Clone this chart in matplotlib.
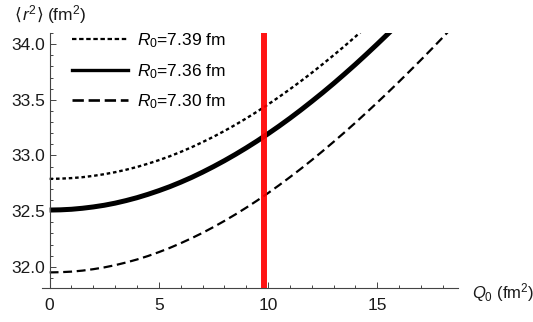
import matplotlib
matplotlib.use("Agg")
import matplotlib.pyplot as plt
from matplotlib.lines import Line2D
from matplotlib.ticker import MultipleLocator, FormatStrFormatter

plt.rcParams["font.family"] = ["Liberation Sans", "DejaVu Sans"]
plt.rcParams["mathtext.fontset"] = "custom"
plt.rcParams["mathtext.rm"] = "Liberation Sans"
plt.rcParams["mathtext.it"] = "Liberation Sans:italic"

# ---------------------------------------------------------------------------
# Data (Q0 in fm^2, <r^2> in fm^2)
# ---------------------------------------------------------------------------
q0 = [0.0, 0.5, 1.0, 1.5, 2.0, 2.5, 3.0, 3.5, 4.0, 4.5, 5.0, 5.5, 6.0, 6.5,
      7.0, 7.5, 8.0, 8.5, 9.0, 9.5, 10.0, 10.5, 11.0, 11.5, 12.0, 12.5, 13.0,
      13.5, 14.0, 14.5, 15.0, 15.5, 16.0, 16.5, 17.0, 17.5, 18.0, 18.5, 19.0]
r2_739 = [32.790, 32.792, 32.797, 32.805, 32.817, 32.832, 32.850, 32.872,
          32.897, 32.926, 32.958, 32.993, 33.032, 33.074, 33.120, 33.168,
          33.220, 33.275, 33.333, 33.394, 33.458, 33.525, 33.595, 33.667,
          33.742, 33.820, 33.900, 33.982, 34.067, 34.155]
r2_736 = [32.510, 32.512, 32.517, 32.526, 32.538, 32.553, 32.572, 32.595,
          32.621, 32.651, 32.684, 32.720, 32.760, 32.803, 32.850, 32.900,
          32.953, 33.009, 33.068, 33.130, 33.195, 33.263, 33.334, 33.408,
          33.485, 33.564, 33.646, 33.731, 33.818, 33.908, 34.000, 34.094,
          34.190]
r2_730 = [31.950, 31.952, 31.957, 31.966, 31.979, 31.995, 32.015, 32.039,
          32.066, 32.097, 32.132, 32.170, 32.212, 32.257, 32.305, 32.357,
          32.412, 32.470, 32.531, 32.595, 32.662, 32.732, 32.805, 32.880,
          32.958, 33.039, 33.122, 33.207, 33.294, 33.384, 33.475, 33.568,
          33.663, 33.760, 33.858, 33.958, 34.060, 34.163, 34.268]
labels = ["$R_0$=7.39 fm", "$R_0$=7.36 fm", "$R_0$=7.30 fm"]
q0_marker = 9.8

FS = 12.5
INK = "#1a1a1a"

fig = plt.figure(figsize=(5.33, 3.22), dpi=100)
ax = fig.add_axes([0.0788, 0.1056, 0.7805, 0.7919])

ax.plot(q0[:len(r2_739)], r2_739, color="black", lw=1.7, dashes=(1.5, 1.2),
        dash_capstyle="butt")
ax.plot(q0[:len(r2_736)], r2_736, color="black", lw=3.6,
        solid_capstyle="butt")
ax.plot(q0[:len(r2_730)], r2_730, color="black", lw=1.6, dashes=(4.0, 2.1),
        dash_capstyle="butt")
ax.axvline(q0_marker, color="#ff0000", lw=4.3, alpha=0.92, zorder=5)

ax.set_xlim(-0.35, 18.7)
ax.set_ylim(31.81, 34.1)

for side in ("top", "right"):
    ax.spines[side].set_visible(False)
ax.spines["left"].set_position(("data", 0))
for side in ("left", "bottom"):
    ax.spines[side].set_color("#444444")
    ax.spines[side].set_linewidth(0.8)

ax.xaxis.set_major_locator(MultipleLocator(5))
ax.xaxis.set_minor_locator(MultipleLocator(1))
ax.yaxis.set_major_locator(MultipleLocator(0.5))
ax.yaxis.set_minor_locator(MultipleLocator(0.1))
ax.yaxis.set_major_formatter(FormatStrFormatter("%.1f"))
ax.tick_params(which="both", direction="in", color="#444444", width=0.7,
               labelsize=FS, labelcolor=INK)
ax.tick_params(which="major", length=4)
ax.tick_params(which="minor", length=2.5)
ax.tick_params(axis="x", pad=7)
ax.tick_params(axis="y", pad=3)

# y label in pieces: the angle brackets come from DejaVu Sans
renderer = fig.canvas.get_renderer()
ylabel_parts = [("\u27e8", "DejaVu Sans", 0.0), ("$r^2$", None, 0.0),
                ("\u27e9", "DejaVu Sans", 4.0), ("(fm$^2$)", None, 0.0)]
x_pos = 0.028
for part, family, gap_px in ylabel_parts:
    kw = {"family": family} if family else {}
    t = fig.text(x_pos, 0.937, part, fontsize=FS, color=INK,
                 va="baseline", ha="left", **kw)
    x_pos += (t.get_window_extent(renderer).width + gap_px) / fig.bbox.width

fig.text(0.886, 0.09, "$Q_0$ (fm$^2$)", fontsize=12, color=INK,
         va="center", ha="left")

handles = [
    Line2D([], [], color="black", lw=1.6, dashes=(2.0, 1.2)),
    Line2D([], [], color="black", lw=2.4),
    Line2D([], [], color="black", lw=1.9, dashes=(4.3, 1.8)),
]
ax.legend(handles, labels, loc="upper left", bbox_to_anchor=(0.035, 1.067),
          frameon=False, fontsize=FS, handlelength=3.2, handletextpad=0.52,
          labelspacing=0.67)

fig.savefig("out.png", dpi=100)
